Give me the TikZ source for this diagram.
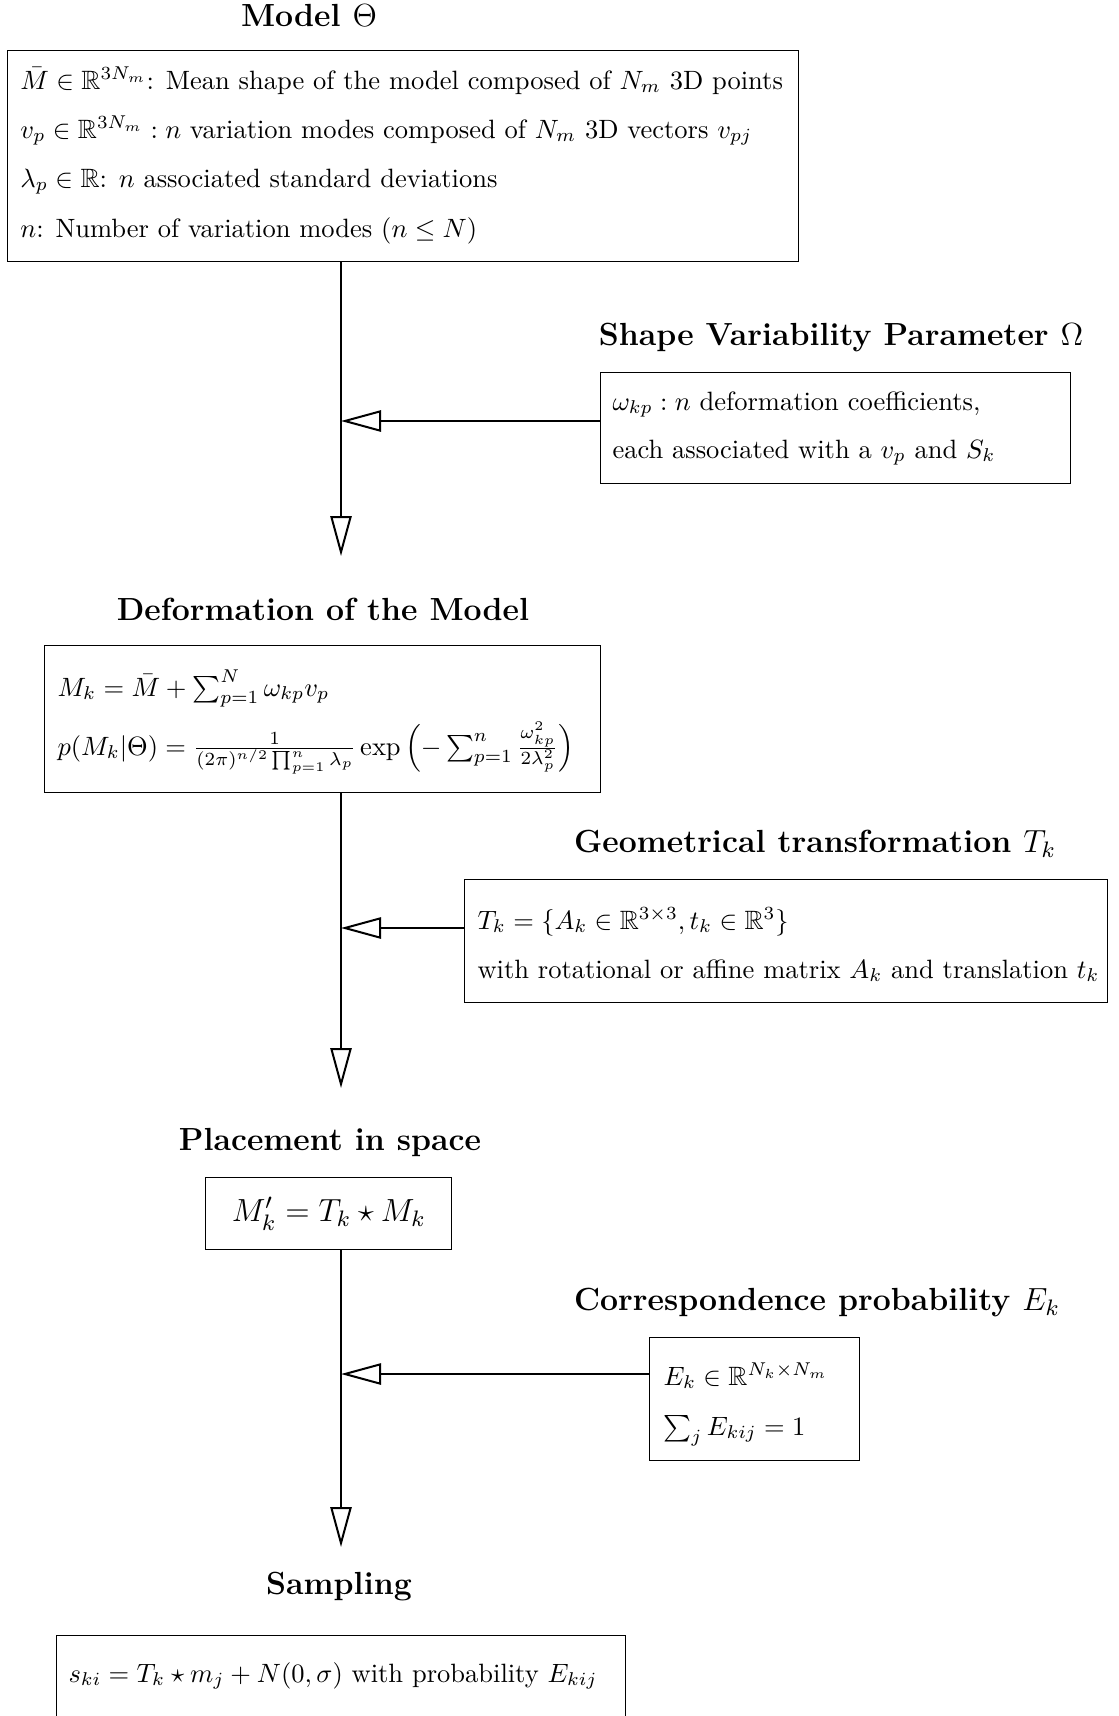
\RequirePackage{fix-cm}
\documentclass[tikz,border=0pt]{standalone}
\usepackage{amsmath,amssymb}
\usetikzlibrary{arrows.meta}
\begin{document}
\begin{tikzpicture}[x=0.4pt,y=-0.4pt,
  frame/.style={draw, line width=0.55pt, inner sep=0pt, anchor=north west},
  txt/.style={inner sep=0pt, anchor=base west, font=\fontsize{10.6pt}{13pt}\selectfont},
  ttl/.style={inner sep=0pt, font=\fontsize{12.8pt}{15pt}\selectfont\bfseries},
  flow/.style={line width=0.8pt, -{Triangle[open, length=16pt, width=8.5pt, line width=0.8pt]}}]
\clip (0,0) rectangle (1119,1716);
% titles
\node[ttl] (h1) at (309,15) {Model $\Theta$};
\node[ttl] (h2) at (841,338) {Shape Variability Parameter $\Omega$};
\node[ttl] (h3) at (323,609) {Deformation of the Model};
\node[ttl] (h4) at (815,844) {Geometrical transformation $T_k$};
\node[ttl] (h5) at (330,1142) {Placement in space};
\node[ttl] (h6) at (817,1303) {Correspondence probability $E_k$};
\node[ttl] (h7) at (339,1587) {Sampling};
% box 1
\node[frame, minimum width=316.4pt, minimum height=84.4pt] (b1) at (7,50) {};
\node[txt] (b1a) at (20,89) {$\bar{M} \in \mathbb{R}^{3N_m}$: Mean shape of the model composed of $N_m$ 3D points};
\node[txt] (b1b) at (20,138) {$v_p \in \mathbb{R}^{3N_m} : n$ variation modes composed of $N_m$ 3D vectors $v_{pj}$};
\node[txt] (b1c) at (20,187) {$\lambda_p \in \mathbb{R}$: $n$ associated standard deviations};
\node[txt] (b1d) at (20,237) {$n$: Number of variation modes ($n \leq N$)};
% box 2
\node[frame, minimum width=188pt, minimum height=44.4pt] (b2) at (600,372) {};
\node[txt] (b2a) at (612,410) {$\omega_{kp} : n$ deformation coefficients,};
\node[txt] (b2b) at (612,458) {each associated with a $v_p$ and $S_k$};
% box 3
\node[frame, minimum width=222.4pt, minimum height=58.8pt] (b3) at (44,645) {};
\node[txt] (b3a) at (57,696) {$M_k = \bar{M} + \sum_{p=1}^{N} \omega_{kp} v_p$};
\node[txt] (b3b) at (57,755) {$p(M_k|\Theta) = \frac{1}{(2\pi)^{n/2}\prod_{p=1}^{n}\lambda_p} \exp\left(-\sum_{p=1}^{n} \frac{\omega_{kp}^2}{2\lambda_p^2}\right)$};
% box 4
\node[frame, minimum width=257.2pt, minimum height=49.2pt] (b4) at (464,879) {};
\node[txt] (b4a) at (477,929) {$T_k = \{A_k \in \mathbb{R}^{3\times 3}, t_k \in \mathbb{R}^3\}$};
\node[txt] (b4b) at (477,978) {with rotational or affine matrix $A_k$ and translation $t_k$};
% box 5
\node[frame, minimum width=98.4pt, minimum height=28.8pt] (b5) at (205,1177) {};
\node[inner sep=0pt, font=\fontsize{12.8pt}{15pt}\selectfont] (b5a) at (b5.center) {$M'_k = T_k \star M_k$};
% box 6
\node[frame, minimum width=84pt, minimum height=49.2pt] (b6) at (649,1337) {};
\node[txt] (b6a) at (663,1385) {$E_k \in \mathbb{R}^{N_k \times N_m}$};
\node[txt] (b6b) at (663,1435) {$\sum_j E_{kij} = 1$};
% box 7
\node[frame, minimum width=227.6pt, minimum height=60pt] (b7) at (56,1635) {};
\node[txt] (b7a) at (68,1682) {$s_{ki} = T_k \star m_j + N(0,\sigma)$ with probability $E_{kij}$};
% connectors
\coordinate (t1) at (341,556);
\coordinate (j1) at (341,421);
\coordinate (t2) at (341,1088);
\coordinate (j2) at (341,928);
\coordinate (t3) at (341,1547);
\coordinate (j3) at (341,1374);
\draw[flow] (b1.south -| t1) -- (t1);
\draw[flow] (b2.west |- j1) -- (j1);
\draw[flow] (b3.south -| t2) -- (t2);
\draw[flow] (b4.west |- j2) -- (j2);
\draw[flow] (b5.south -| t3) -- (t3);
\draw[flow] (b6.west |- j3) -- (j3);
\end{tikzpicture}
\end{document}
